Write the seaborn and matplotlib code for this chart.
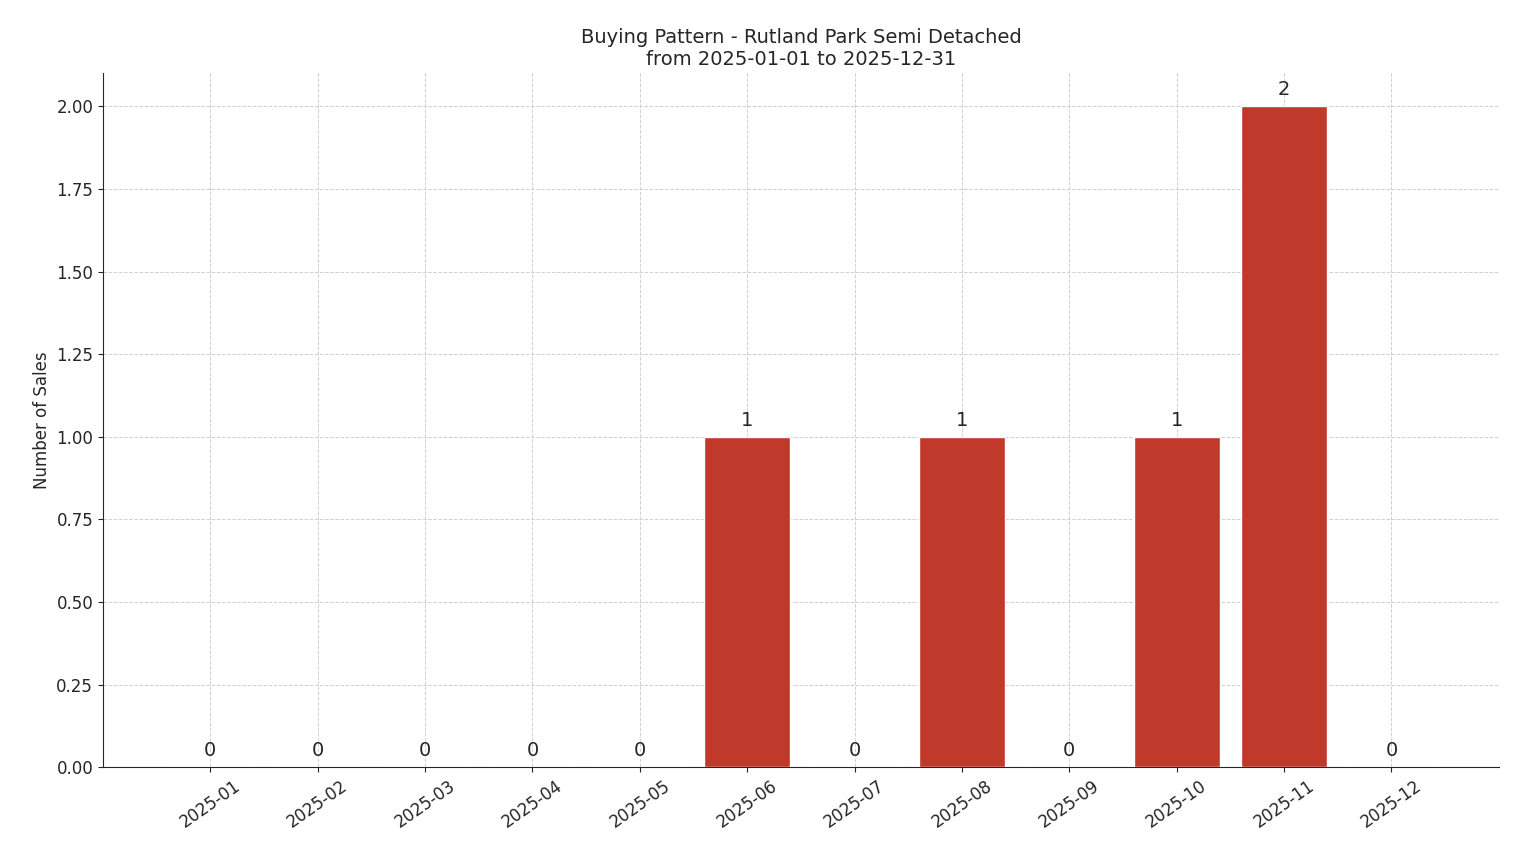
import matplotlib
matplotlib.use("Agg")
import matplotlib.pyplot as plt
import seaborn as sns

# Monthly sales counts
months = ["2025-01", "2025-02", "2025-03", "2025-04", "2025-05", "2025-06",
          "2025-07", "2025-08", "2025-09", "2025-10", "2025-11", "2025-12"]
sales = [0, 0, 0, 0, 0, 1, 0, 1, 0, 1, 2, 0]

sns.set_style("ticks")
plt.rcParams['font.family'] = ['DejaVu Sans']

fig, ax = plt.subplots(figsize=(15.14, 8.63), dpi=100)
sns.barplot(x=months, y=sales, color="#c0392b", saturation=1, width=0.8, ax=ax, zorder=3)

for i, v in enumerate(sales):
    ax.annotate(str(v), (i, v), xytext=(0, 5), textcoords="offset points",
                ha="center", va="bottom", fontsize=14)

ax.set_xlim(-1, 12)
ax.set_ylim(0, 2.1)
ax.set_yticks([0, 0.25, 0.5, 0.75, 1.0, 1.25, 1.5, 1.75, 2.0])
ax.set_yticklabels([f"{t:.2f}" for t in ax.get_yticks()], fontsize=12)
ax.tick_params(axis="x", labelsize=12, labelrotation=35)
ax.set_ylabel("Number of Sales", fontsize=12)
ax.set_xlabel("")
ax.set_title("Buying Pattern - Rutland Park Semi Detached\nfrom 2025-01-01 to 2025-12-31", fontsize=14)
ax.grid(True, linestyle="--", color="#d0d0d0", linewidth=0.7, zorder=0)
sns.despine(ax=ax)

fig.subplots_adjust(left=0.068, right=0.99, top=0.915, bottom=0.111)
fig.savefig("out.png", dpi=100)
